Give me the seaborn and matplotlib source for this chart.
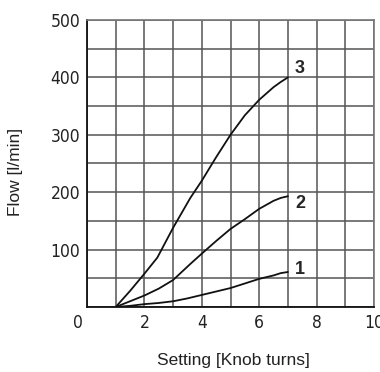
import matplotlib
matplotlib.use("Agg")
import matplotlib.pyplot as plt
import matplotlib.transforms as mtransforms
import seaborn as sns
import pandas as pd

# data
x1 = [1.0, 1.5, 2.0, 2.5, 3.0, 3.5, 4.0, 4.5, 5.0, 5.5, 6.0, 6.5, 6.75, 7.0]
y1 = [0, 2, 5, 7, 10, 15, 21, 27, 33, 41, 49, 55, 59, 61]
x2 = [1.0, 1.5, 2.0, 2.5, 3.0, 3.6, 4.0, 4.5, 5.0, 5.5, 6.0, 6.5, 6.75, 7.0]
y2 = [0, 10, 20, 32, 47, 75, 93, 115, 136, 153, 171, 185, 190, 193]
x3 = [1.0, 1.5, 2.0, 2.45, 3.0, 3.6, 4.0, 4.5, 5.0, 5.5, 6.0, 6.5, 6.75, 7.0]
y3 = [0, 28, 58, 86, 138, 190, 220, 261, 300, 334, 361, 383, 392, 400]
curve_names = ["1", "2", "3"]
label_x = [7.42, 7.42, 7.42]
label_y = [66, 180, 415]
xticks = [0, 2, 4, 6, 8, 10]
yticks = [100, 200, 300, 400, 500]
xlabel = "Setting [Knob turns]"
ylabel = "Flow [l/min]"

rows = []
for name, xs, ys in zip(curve_names, [x1, x2, x3], [y1, y2, y3]):
    for a, b in zip(xs, ys):
        rows.append({"x": a, "y": b, "curve": name})
df = pd.DataFrame(rows)

sns.set_style("white")
plt.rcParams["font.family"] = ["DejaVu Sans"]

W, H = 380, 372
fig = plt.figure(figsize=(W/100, H/100), dpi=100)
ax = fig.add_axes([87/W, 65/H, 287/W, 287/H])

sns.lineplot(data=df, x="x", y="y", hue="curve", palette=["#111111"]*3,
             sort=False, linewidth=1.3, legend=False, ax=ax, estimator=None)

ax.set_xlim(0, 10)
ax.set_ylim(0, 500)
ax.set_xticks(range(0, 11))
ax.set_yticks(range(0, 501, 50))
ax.grid(True, color="#555555", linewidth=1.1)
ax.set_axisbelow(True)
ax.set_xticklabels([str(v) if v in xticks else "" for v in range(0, 11)])
ax.set_yticklabels([str(v) if v in yticks else "" for v in range(0, 501, 50)])
ax.tick_params(length=0, pad=5)
for lab in ax.get_xticklabels() + ax.get_yticklabels():
    lab.set_fontsize(12.5)
    lab.set_fontstretch("condensed")
    lab.set_fontweight("light")
    lab.set_color("#222222")
first = ax.get_xticklabels()[0]
first.set_transform(first.get_transform() + mtransforms.ScaledTranslation(-9/100, 0, fig.dpi_scale_trans))

for sp in ["left", "bottom"]:
    ax.spines[sp].set_color("#111111")
    ax.spines[sp].set_linewidth(1.3)
for sp in ["top", "right"]:
    ax.spines[sp].set_color("#777777")
    ax.spines[sp].set_linewidth(1.2)

for name, lx, ly in zip(curve_names, label_x, label_y):
    ax.text(lx, ly, name, fontsize=13, fontweight="bold", family="Liberation Sans",
            va="center", ha="center")

ax.set_xlabel("")
ax.set_ylabel("")
fig.text(233/W, 1 - 361/H, xlabel, fontsize=12.5, family="Liberation Sans",
         ha="center", va="center", color="#222222")
fig.text(16/W, 1 - 172/H, ylabel, fontsize=12.5, family="Liberation Sans",
         ha="center", va="center", rotation=90, color="#222222")

fig.savefig("out.png", dpi=100)
